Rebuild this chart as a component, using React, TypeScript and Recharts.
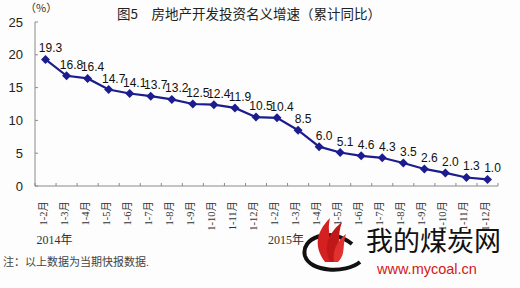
import React from 'react';
import { LineChart, Line, XAxis, YAxis, LabelList } from 'recharts';

// cumulative YoY nominal growth of real estate investment (%)
const periods2014 = ['1-2月', '1-3月', '1-4月', '1-5月', '1-6月', '1-7月', '1-8月', '1-9月', '1-10月', '1-11月', '1-12月'];
const periods2015 = ['1-2月', '1-3月', '1-4月', '1-5月', '1-6月', '1-7月', '1-8月', '1-9月', '1-10月', '1-11月', '1-12月'];
const growth2014 = [19.3, 16.8, 16.4, 14.7, 14.1, 13.7, 13.2, 12.5, 12.4, 11.9, 10.5];
const growth2015 = [10.4, 8.5, 6.0, 5.1, 4.6, 4.3, 3.5, 2.6, 2.0, 1.3, 1.0];
const yearLabels = ['2014年', '2015年'];
const yTicks = [0, 5, 10, 15, 20, 25];

const data = [
  ...periods2014.map((p, i) => ({ period: p, year: 0, growth: growth2014[i] })),
  ...periods2015.map((p, i) => ({ period: p, year: 1, growth: growth2015[i] })),
];

const NAVY = '#1c1c8f';
const AXIS = '#8a8a8a';
const HALF_STEP = 10.5;

const YTick = (props: any) => {
  const { x, y, payload } = props;
  return (
    <g>
      <text x={x - 12} y={y} dy={4.5} textAnchor="end" fontSize={13}
        fontFamily="'Liberation Sans', Arial, sans-serif" fill="#222">
        {payload.value}
      </text>
      <line x1={x} x2={x + 3} y1={y} y2={y} stroke={AXIS} />
    </g>
  );
};

const XTick = (props: any) => {
  const { x, y, payload, index } = props;
  const isLast = index === data.length - 1;
  const first = index === 0 || (index > 0 && data[index].year !== data[index - 1].year);
  return (
    <g>
      <line x1={x - HALF_STEP} x2={x - HALF_STEP} y1={y} y2={y - 3} stroke={AXIS} />
      {isLast && <line x1={x + HALF_STEP} x2={x + HALF_STEP} y1={y} y2={y - 3} stroke={AXIS} />}
      <text x={x + 1} y={y + 15} textAnchor="end" fontSize={10.5}
        fontFamily="'Liberation Serif', 'Noto Sans CJK SC', serif" fill="#333"
        transform={`rotate(-90, ${x + 1}, ${y + 15})`}>
        {payload.value}
      </text>
      {first && (
        <text x={x - 9} y={y + 58} fontSize={12}
          fontFamily="'Liberation Serif', 'Noto Sans CJK SC', serif" fill="#333">
          {yearLabels[data[index].year]}
        </text>
      )}
    </g>
  );
};

const Diamond = (props: any) => {
  const { cx, cy } = props;
  if (cx == null || cy == null) return null;
  const r = 4.5;
  return (
    <polygon points={`${cx},${cy - r} ${cx + r},${cy} ${cx},${cy + r} ${cx - r},${cy}`} fill={NAVY} />
  );
};

const ValueLabel = (props: any) => {
  const { x, y, value } = props;
  return (
    <text x={x + 5} y={y - 7} textAnchor="middle" fontSize={12}
      fontFamily="'Liberation Sans', Arial, sans-serif" fill="#111">
      {Number(value).toFixed(1)}
    </text>
  );
};

const App = () => {
  return (
    <div style={{ position: 'absolute', left: 0, top: 0, width: 520, height: 288, background: '#fcfdfc' }}>
      <LineChart width={520} height={288} data={data} margin={{ top: 22, right: 22, left: 0, bottom: 0 }}>
        <XAxis dataKey="period" interval={0} height={102} tickSize={0} tickMargin={0}
          tickLine={false} axisLine={{ stroke: AXIS }} padding={{ left: HALF_STEP, right: HALF_STEP }}
          tick={<XTick />} />
        <YAxis domain={[0, 25]} ticks={yTicks} width={35} tickSize={0} tickMargin={0}
          tickLine={false} axisLine={{ stroke: AXIS }} tick={<YTick />} />
        <Line type="linear" dataKey="growth" stroke={NAVY} strokeWidth={2.2}
          dot={<Diamond />} activeDot={false} isAnimationActive={false}>
          <LabelList dataKey="growth" content={<ValueLabel />} />
        </Line>
      </LineChart>
      <svg width={520} height={288} style={{ position: 'absolute', left: 0, top: 0, pointerEvents: 'none' }}>
        <text x={25} y={12} fontSize={11} fontFamily="'Noto Sans CJK SC', sans-serif" fill="#333">（%）</text>
        <text x={117} y={19} fontSize={13.5} fontFamily="'Noto Sans CJK SC', sans-serif" fill="#222">
          图5　房地产开发投资名义增速（累计同比）
        </text>
        <text x={3} y={266} fontSize={11} fontFamily="'Liberation Serif', 'Noto Sans CJK SC', serif" fill="#444">
          注：以上数据为当期快报数据.
        </text>
        {/* watermark */}
        <path d="M352,244 C330,226 300,238 305,256 C310,272 345,274 360,262" fill="none" stroke="#111" strokeWidth={4} />
        <path d="M325,262 C312,245 318,230 330,218 C326,235 334,245 330,262 Z" fill="#d42020" />
        <path d="M330,262 C322,244 330,232 342,222 C336,238 342,250 335,262 Z" fill="#c01818" />
        <path d="M334,262 C332,250 338,240 346,234 C342,246 346,254 338,262 Z" fill="#e03030" />
        <text x={366} y={251} fontSize={27} fontFamily="'Noto Sans CJK SC', sans-serif" fill="#111">我的煤炭网</text>
        <text x={377} y={274} fontSize={14.5} fontFamily="'Liberation Sans', Arial, sans-serif" fill="#d41818">www.mycoal.cn</text>
      </svg>
    </div>
  );
};

export default App;
